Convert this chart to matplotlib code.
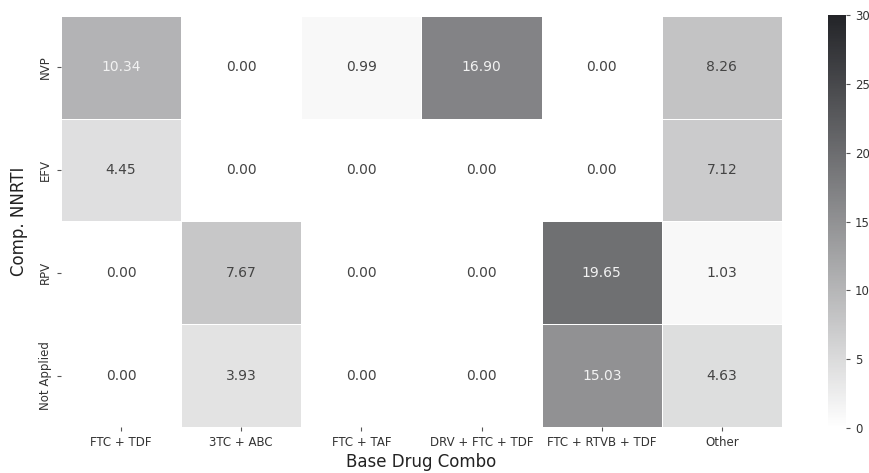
import numpy as np
import matplotlib
matplotlib.use("Agg")
import matplotlib.pyplot as plt
from matplotlib.colors import LinearSegmentedColormap
import seaborn as sns

# share (%) of each NNRTI within each base drug combination
combos = ["FTC + TDF", "3TC + ABC", "FTC + TAF", "DRV + FTC + TDF", "FTC + RTVB + TDF", "Other"]
nnrti = ["NVP", "EFV", "RPV", "Not Applied"]
nvp = [10.34, 0.00, 0.99, 16.90, 0.00, 8.26]
efv = [4.45, 0.00, 0.00, 0.00, 0.00, 7.12]
rpv = [0.00, 7.67, 0.00, 0.00, 19.65, 1.03]
not_applied = [0.00, 3.93, 0.00, 0.00, 15.03, 4.63]

vals = np.array([nvp, efv, rpv, not_applied])

cmap = LinearSegmentedColormap.from_list("soft_greys", ["#ffffff", "#232428"])

fig = plt.figure(figsize=(8.7, 4.73), dpi=100)
W, H = 870, 473
ax = fig.add_axes([61 / W, 1 - 427 / H, (782 - 61) / W, (427 - 16) / H])
cax = fig.add_axes([828 / W, 1 - 428 / H, 18 / W, (428 - 15) / H])

sns.heatmap(vals, ax=ax, cbar_ax=cax, cmap=cmap, vmin=0, vmax=30,
            linewidths=0.6, linecolor="white",
            xticklabels=combos, yticklabels=nnrti)

for i in range(vals.shape[0]):
    for j in range(vals.shape[1]):
        v = vals[i, j]
        ax.text(j + 0.5, i + 0.5, f"{v:.2f}", ha="center", va="center",
                fontsize=10, color="#f2f2f2" if v > 10 else "#444444")

ax.tick_params(axis="both", labelsize=8.5, colors="#555555", labelcolor="#333333", length=3)
ax.set_yticklabels(nnrti, rotation=90, va="center")
ax.set_xticklabels(combos, rotation=0)
ax.set_xlabel("Base Drug Combo", fontsize=12, color="#222222", labelpad=3)
ax.set_ylabel("Comp. NNRTI", fontsize=12, color="#222222", labelpad=8)

cax.tick_params(labelsize=8.5, colors="#555555", labelcolor="#333333", length=3)
cax.set_yticks([0, 5, 10, 15, 20, 25, 30])

fig.savefig("out.png", dpi=100)
